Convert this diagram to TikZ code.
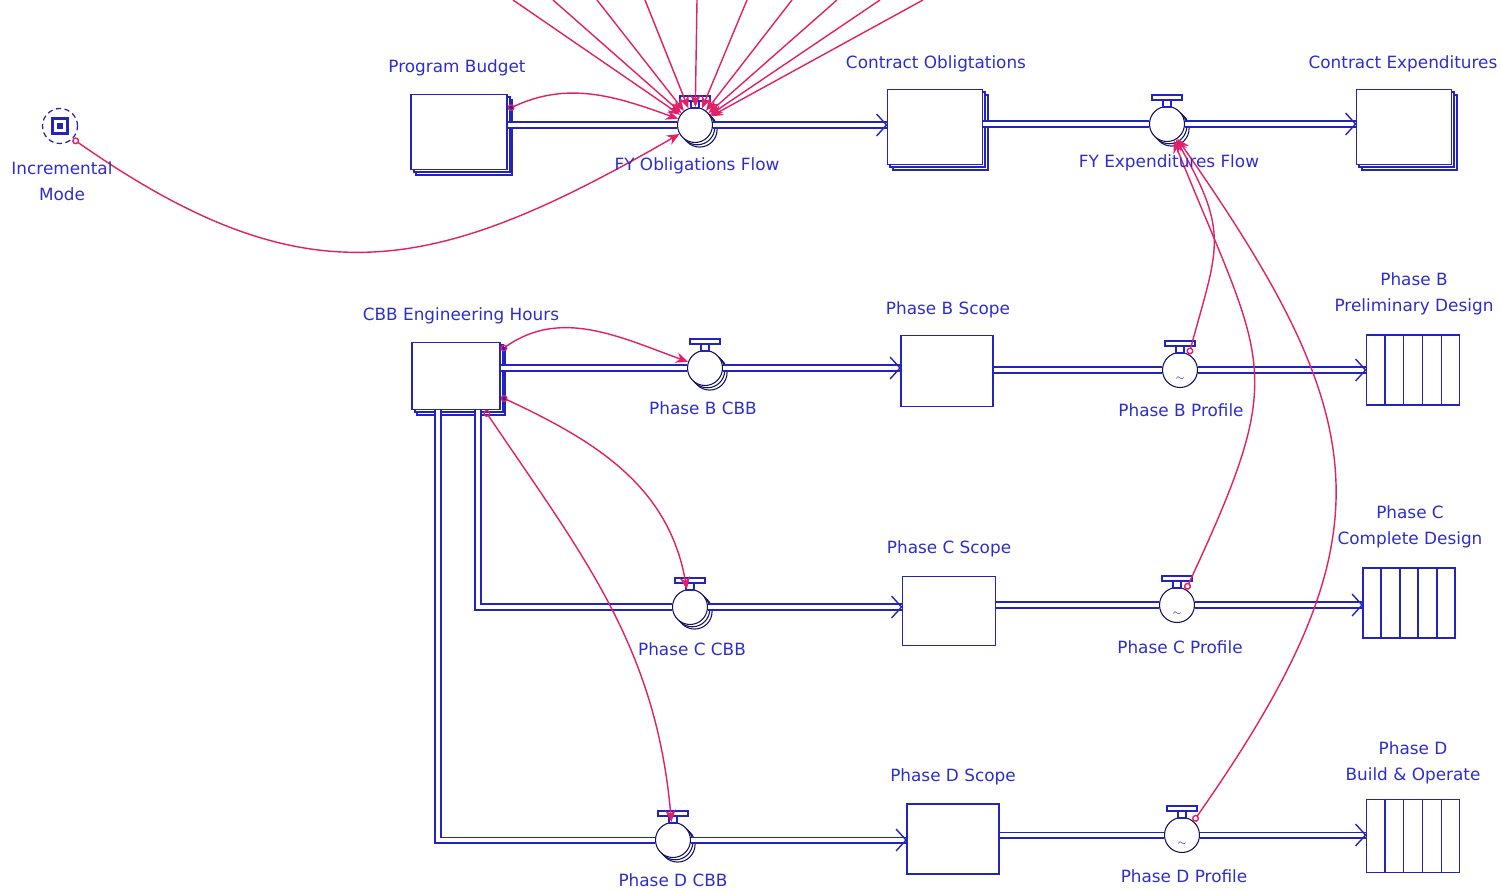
\documentclass[tikz,border=0pt]{standalone}
\usepackage{fontspec}
\setmainfont{DejaVu Sans}
\usetikzlibrary{arrows.meta,shadows,calc}
\definecolor{flowblue}{RGB}{35,35,190}
\definecolor{txtblue}{RGB}{45,45,205}
\definecolor{linkpink}{RGB}{226,32,104}
\newcommand\lblfont{\fontsize{9.6}{14.5}\selectfont}
% handle on top of a valve
\newcommand\handle[1]{%
  \draw[flowblue, line width=0.9pt, fill=white] ($(#1.north)+(-4,1)$) rectangle ($(#1.north)+(4,-6)$);
  \draw[flowblue, line width=0.9pt, fill=white] ($(#1.north)+(-15,-6)$) rectangle ($(#1.north)+(15,-11)$);}
% open arrow head where a pipe enters
\newcommand\chev[1]{\draw[flowblue, line width=0.8pt] ($(#1)+(-10,-11)$) -- (#1) -- ($(#1)+(-10,11)$);}
% cells of a conveyor
\newcommand\cells[1]{\foreach \f in {0.2,0.4,0.6,0.8}
  \draw[flowblue, line width=1.1pt] ($(#1.north west)!\f!(#1.north east)$) -- ($(#1.south west)!\f!(#1.south east)$);}
\begin{document}
\begin{tikzpicture}[x=0.02cm, y=-0.02cm,
  stock/.style={rectangle, draw=flowblue, line width=1.1pt, fill=white, inner sep=0pt},
  stack/.style={double copy shadow={shadow xshift=1.5pt, shadow yshift=-1.5pt}},
  valve/.style={circle, draw=flowblue!50!black, fill=white, line width=0.6pt, minimum size=0.7cm, inner sep=0pt},
  arrayed/.style={double copy shadow={shadow xshift=1.3pt, shadow yshift=-1.3pt}},
  pipe/.style={draw=flowblue, line width=1pt, double=white, double distance=2pt},
  link/.style={draw=linkpink, line width=0.8pt, -{Stealth[length=7pt, width=6pt]}},
  src/.style={{Circle[open, length=4pt, width=4pt]}-{Stealth[length=7pt, width=6pt]}},
  lbl/.style={text=txtblue, font=\lblfont, align=center, inner sep=0pt}
  ]
  \useasboundingbox (0,0) rectangle (1501,890);

  % stocks and conveyors
  \node[stock, stack, minimum width=1.92cm, minimum height=1.5cm] (pb) at (459,132) {};
  \node[stock, stack, minimum width=1.9cm, minimum height=1.5cm] (co) at (935,127) {};
  \node[stock, stack, minimum width=1.9cm, minimum height=1.5cm] (ce) at (1404,127) {};
  \node[stock, stack, minimum width=1.76cm, minimum height=1.34cm] (cbb) at (456,376) {};
  \node[stock, minimum width=1.84cm, minimum height=1.42cm] (bs) at (947,371) {};
  \node[stock, minimum width=1.86cm, minimum height=1.38cm] (cs) at (949,611) {};
  \node[stock, minimum width=1.84cm, minimum height=1.4cm] (ds) at (953,839) {};
  \node[stock, minimum width=1.86cm, minimum height=1.4cm] (bpd) at (1413,370) {};
  \node[stock, minimum width=1.84cm, minimum height=1.4cm] (ccd) at (1409,603) {};
  \node[stock, minimum width=1.86cm, minimum height=1.46cm] (dbo) at (1413,836) {};
  \cells{bpd} \cells{ccd} \cells{dbo}

  % valves
  \node[valve, arrayed] (fyo) at (695,125) {};
  \node[valve, arrayed] (fye) at (1167,124) {};
  \node[valve, arrayed] (bcbb) at (705,368) {};
  \node[valve, arrayed] (ccbb) at (690,607) {};
  \node[valve, arrayed] (dcbb) at (673,840) {};
  \node[valve] (bpro) at (1180,370) {};
  \node[valve] (cpro) at (1177,605) {};
  \node[valve] (dpro) at (1182,835) {};
  \node[text=flowblue, font=\tiny, inner sep=0pt] (bproG) at ($(bpro)+(0,9)$) {$\sim$};
  \node[text=flowblue, font=\tiny, inner sep=0pt] (cproG) at ($(cpro)+(0,9)$) {$\sim$};
  \node[text=flowblue, font=\tiny, inner sep=0pt] (dproG) at ($(dpro)+(0,9)$) {$\sim$};

  % converter
  \node[circle, draw=flowblue, densely dashed, line width=0.7pt, minimum size=0.7cm, inner sep=0pt] (incm) at (60,126) {};
  \node[draw=flowblue, line width=1.2pt, minimum size=0.3cm, inner sep=0pt] (incmA) at (incm) {};
  \node[fill=flowblue, minimum size=0.12cm, inner sep=0pt] (incmB) at (incm) {};

  % pipes
  \coordinate (coIn) at (fyo -| co.west);
  \coordinate (ceIn) at (fye -| ce.west);
  \coordinate (bsIn) at (bcbb -| bs.west);
  \coordinate (csIn) at (ccbb -| cs.west);
  \coordinate (dsIn) at (dcbb -| ds.west);
  \coordinate (bpdIn) at (bpro -| bpd.west);
  \coordinate (ccdIn) at (cpro -| ccd.west);
  \coordinate (dboIn) at (dpro -| dbo.west);
  \draw[pipe] (pb.east |- fyo) -- (fyo);
  \draw[pipe] (fyo) -- (coIn);
  \draw[pipe] (co.east |- fye) -- (fye);
  \draw[pipe] (fye) -- (ceIn);
  \draw[pipe] (cbb.east |- bcbb) -- (bcbb);
  \draw[pipe] (bcbb) -- (bsIn);
  \draw[pipe] ($(cbb.south)+(22,0)$) |- (ccbb);
  \draw[pipe] (ccbb) -- (csIn);
  \draw[pipe] ($(cbb.south)+(-18,0)$) |- (dcbb);
  \draw[pipe] (dcbb) -- (dsIn);
  \draw[pipe] (bs.east |- bpro) -- (bpro);
  \draw[pipe] (bpro) -- (bpdIn);
  \draw[pipe] (cs.east |- cpro) -- (cpro);
  \draw[pipe] (cpro) -- (ccdIn);
  \draw[pipe] (ds.east |- dpro) -- (dpro);
  \draw[pipe] (dpro) -- (dboIn);
  \chev{coIn} \chev{ceIn} \chev{bsIn} \chev{csIn} \chev{dsIn}
  \chev{bpdIn} \chev{ccdIn} \chev{dboIn}
  \handle{fyo} \handle{fye} \handle{bcbb} \handle{ccbb} \handle{dcbb}
  \handle{bpro} \handle{cpro} \handle{dpro}

  % connectors
  \foreach \x in {513,553,597,645,697,747,792,837,880,923}
    \draw[link] (\x,0) -- (fyo);
  \draw[link, src] (pb.25) to[out=25, in=160] (fyo);
  \draw[link, src] (incm.-45) to[out=-35, in=-150, looseness=1.2] (fyo);
  \draw[link, src] (cbb.30) to[out=35, in=160] (bcbb);
  \draw[link, src] (cbb.-25) to[out=-25, in=100] (ccbb);
  \draw[link, src] (cbb.-50) to[out=-56, in=95] (dcbb);
  \draw[link, src] (bpro.60) to[out=75, in=-60, looseness=1.3] (fye);
  \draw[link, src] (cpro.60) to[out=65, in=-68, looseness=1.4] (fye);
  \draw[link, src] (dpro.50) to[out=55, in=-55, looseness=1.3] (fye);

  % labels
  \node[lbl] (incmL) at (62,181) {Incremental\\Mode};
  \node[lbl] (pbL) at (457,68) {Program Budget};
  \node[lbl] (fyoL) at (697,166) {FY Obligations Flow};
  \node[lbl] (coL) at (936,64) {Contract Obligtations};
  \node[lbl] (fyeL) at (1169,163) {FY Expenditures Flow};
  \node[lbl] (ceL) at (1403,64) {Contract Expenditures};
  \node[lbl] (cbbL) at (461,316) {CBB Engineering Hours};
  \node[lbl] (bcbbL) at (703,408) {Phase B CBB};
  \node[lbl] (bsL) at (948,310) {Phase B Scope};
  \node[lbl] (bproL) at (1181,410) {Phase B Profile};
  \node[lbl] (bpdL) at (1414,294) {Phase B\\Preliminary Design};
  \node[lbl] (ccbbL) at (692,649) {Phase C CBB};
  \node[lbl] (csL) at (949,549) {Phase C Scope};
  \node[lbl] (cproL) at (1180,647) {Phase C Profile};
  \node[lbl] (ccdL) at (1410,527) {Phase C\\Complete Design};
  \node[lbl] (dcbbL) at (673,880) {Phase D CBB};
  \node[lbl] (dsL) at (953,777) {Phase D Scope};
  \node[lbl] (dproL) at (1184,876) {Phase D Profile};
  \node[lbl] (dboL) at (1413,763) {Phase D\\Build \& Operate};
\end{tikzpicture}
\end{document}
